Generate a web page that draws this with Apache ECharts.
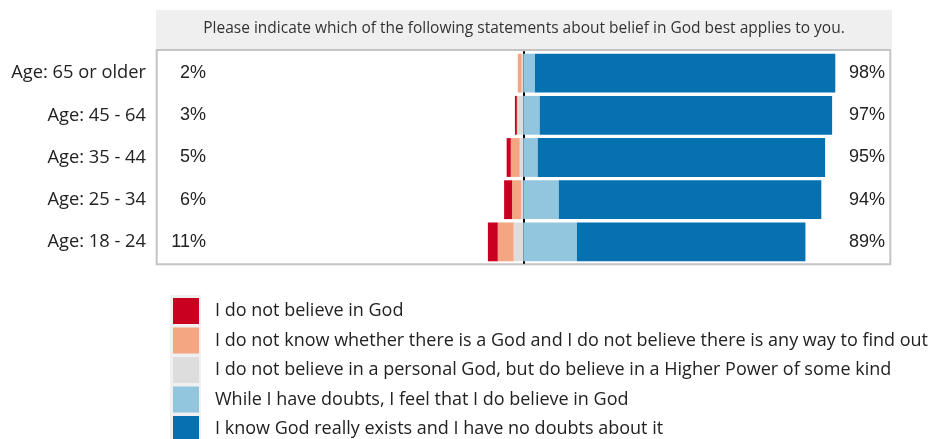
<!DOCTYPE html>
<html>
<head>
<meta charset="utf-8">
<script src="https://cdn.jsdelivr.net/npm/echarts@6/dist/echarts.min.js"></script>
<style>
  html, body { margin: 0; padding: 0; background: #fff; }
  #chart { width: 936px; height: 439px; }
</style>
</head>
<body>
<div id="chart"></div>
<script>
// age groups, top to bottom
const categories = ['Age: 65 or older', 'Age: 45 - 64', 'Age: 35 - 44', 'Age: 25 - 34', 'Age: 18 - 24']

const seriesNames = [
  'I do not believe in God',
  'I do not know whether there is a God and I do not believe there is any way to find out',
  'I do not believe in a personal God, but do believe in a Higher Power of some kind',
  'While I have doubts, I feel that I do believe in God',
  'I know God really exists and I have no doubts about it'
]

// percentages (left side drawn as negatives)
const noBelief = [0, 0.6, 1.3, 2.5, 3.1]
const dontKnow = [1.2, 0.2, 2.8, 2.8, 5.0]
const higherPower = [0.6, 1.9, 1.2, 0.8, 3.1]
const haveDoubts = [3.6, 5.1, 4.5, 11.1, 16.8]
const knowExists = [94.5, 92.0, 90.4, 82.6, 71.9]

const leftLabels = ['2%', '3%', '5%', '6%', '11%']
const rightLabels = ['98%', '97%', '95%', '94%', '89%']

const colors = ['#ca0020', '#f4a582', '#dddddd', '#92c5de', '#0571b0']

const chart = echarts.init(document.getElementById('chart'))

function bar (name, data, color, negative) {
  return {
    name: name,
    type: 'bar',
    stack: 'total',
    barCategoryGap: '8%',
    itemStyle: { color: color },
    data: negative ? data.map(v => -v) : data
  }
}

chart.setOption({
  animation: false,
  textStyle: { fontFamily: 'Open Sans' },
  graphic: [
    {
      type: 'rect',
      shape: { x: 156, y: 10, width: 736, height: 39 },
      style: { fill: '#efefef' }
    },
    {
      type: 'text',
      x: 524,
      y: 29,
      style: {
        text: 'Please indicate which of the following statements about belief in God best applies to you.',
        fill: '#333',
        font: '15.5px "Open Sans"',
        align: 'center',
        verticalAlign: 'middle'
      }
    },
    {
      type: 'rect',
      shape: { x: 156.7, y: 50, width: 733.6, height: 214.3 },
      style: { fill: null, stroke: '#c4c4c4', lineWidth: 2 }
    },
    {
      type: 'rect',
      shape: { x: 170, y: 295, width: 31, height: 144 },
      style: { fill: '#f0f0f0' }
    }
  ],
  grid: {
    left: 158,
    right: 47,
    top: 52,
    bottom: 176
  },
  legend: {
    orient: 'vertical',
    left: 173,
    top: 298,
    height: 170,
    padding: 0,
    itemWidth: 26,
    itemHeight: 26,
    itemGap: 3.5,
    icon: 'rect',
    data: seriesNames,
    textStyle: {
      fontFamily: 'Open Sans',
      fontSize: 18,
      color: '#222',
      padding: [0, 0, 0, 11]
    }
  },
  xAxis: {
    type: 'value',
    min: -115,
    max: 115,
    show: false
  },
  yAxis: [
    {
      type: 'category',
      data: categories,
      inverse: true,
      position: 'left',
      axisLine: { show: false, onZero: false },
      axisTick: { show: false },
      axisLabel: {
        margin: 12,
        fontFamily: 'Open Sans',
        fontSize: 18.3,
        color: '#222'
      }
    },
    {
      type: 'category',
      data: leftLabels,
      inverse: true,
      position: 'left',
      axisLine: { show: false, onZero: false },
      axisTick: { show: false },
      axisLabel: {
        inside: true,
        align: 'right',
        margin: 48,
        fontFamily: 'Liberation Sans',
        fontSize: 18,
        color: '#222'
      }
    },
    {
      type: 'category',
      data: rightLabels,
      inverse: true,
      position: 'right',
      axisLine: { show: false, onZero: false },
      axisTick: { show: false },
      axisLabel: {
        inside: true,
        align: 'right',
        margin: 4,
        fontFamily: 'Liberation Sans',
        fontSize: 18,
        color: '#222'
      }
    },
    {
      // zero line, sits under the bars
      type: 'category',
      data: categories,
      inverse: true,
      position: 'left',
      axisLine: { show: true, onZero: true, lineStyle: { color: '#000', width: 2 } },
      axisTick: { show: false },
      axisLabel: { show: false }
    }
  ],
  series: [
    bar(seriesNames[2], higherPower, colors[2], true),
    bar(seriesNames[1], dontKnow, colors[1], true),
    bar(seriesNames[0], noBelief, colors[0], true),
    bar(seriesNames[3], haveDoubts, colors[3], false),
    bar(seriesNames[4], knowExists, colors[4], false)
  ]
})
</script>
</body>
</html>
